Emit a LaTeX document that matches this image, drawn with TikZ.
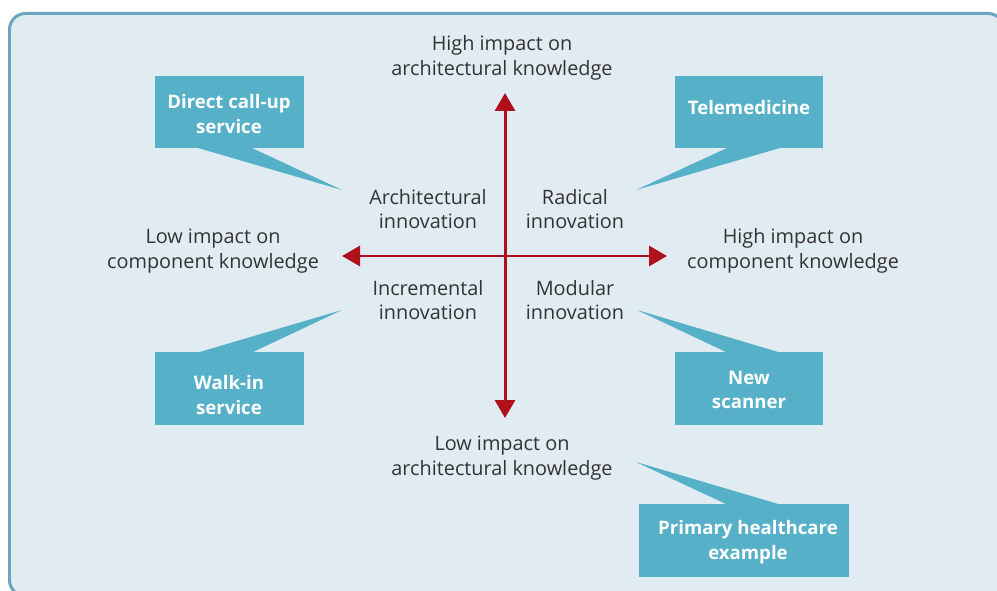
\documentclass[tikz,border=0pt]{standalone}
\usepackage{fontspec}
\setmainfont{Open Sans}
\usetikzlibrary{arrows.meta}
\definecolor{bgblue}{HTML}{E0EBF2}
\definecolor{framecol}{HTML}{6AA6C0}
\definecolor{callcol}{HTML}{56B1C8}
\definecolor{axisred}{HTML}{B0101B}
\definecolor{txtgray}{HTML}{333333}
\begin{document}
\begin{tikzpicture}[x=0.02cm,y=-0.02cm,
  lbl/.style={align=center,text=txtgray,inner sep=0pt,font=\fontsize{11.3}{13.9}\selectfont},
  ctext/.style={align=center,text=white,inner sep=0pt,font=\fontsize{10.6}{13.9}\selectfont\bfseries},
  axis/.style={draw=axisred,line width=0.06cm,{Triangle[width=0.4cm,length=0.36cm]}-{Triangle[width=0.4cm,length=0.36cm]}}
]
\useasboundingbox (0,0) rectangle (997,591);
\begin{scope}
\clip (0,0) rectangle (997,591);
\draw[fill=bgblue,draw=framecol,line width=0.06cm,rounded corners=0.32cm] (9.5,13.5) rectangle (1004,596);
\end{scope}

% axes
\coordinate (top) at (505,93);
\coordinate (bot) at (505,418);
\coordinate (lft) at (342,256);
\coordinate (rgt) at (667,256);
\draw[axis] (bot) -- (top);
\draw[axis] (lft) -- (rgt);

% axis labels
\node[lbl] (hia) at (502,58) {High impact on\\architectural knowledge};
\node[lbl] (lia) at (502,458) {Low impact on\\architectural knowledge};
\node[lbl] (lic) at (213,251) {Low impact on\\component knowledge};
\node[lbl] (hic) at (793,251) {High impact on\\component knowledge};

% quadrant labels
\node[lbl] (arch) at (428,209) {Architectural\\innovation};
\node[lbl] (rad) at (575,209) {Radical\\innovation};
\node[lbl] (inc) at (428,300) {Incremental\\innovation};
\node[lbl] (mod) at (575,300) {Modular\\innovation};

% callout boxes
\fill[callcol] (155,76) rectangle (304,148.5);
\fill[callcol] (675,76) rectangle (823,148.5);
\fill[callcol] (155,352) rectangle (304,424.5);
\fill[callcol] (675,352) rectangle (823,424.5);
\fill[callcol] (639,504) rectangle (849,577);

% tails
\coordinate (t1) at (342,190);
\coordinate (t2) at (636,190);
\coordinate (t3) at (342,310);
\coordinate (t4) at (637,310);
\coordinate (t5) at (636,462);
\fill[callcol] (198,148) -- (t1) -- (252,148) -- cycle;
\fill[callcol] (727,148) -- (t2) -- (780,148) -- cycle;
\fill[callcol] (198,352.5) -- (t3) -- (252,352.5) -- cycle;
\fill[callcol] (727,352.5) -- (t4) -- (780,352.5) -- cycle;
\fill[callcol] (727,504.5) -- (t5) -- (780,504.5) -- cycle;

% callout texts
\node[ctext] (c1) at (229,114) {Direct call-up\\service};
\node[ctext] (c2) at (749,108) {Telemedicine};
\node[ctext] (c3) at (229,395) {Walk-in\\service};
\node[ctext] (c4) at (749,390) {New\\scanner};
\node[ctext] (c5) at (748,542) {Primary healthcare\\example};
\end{tikzpicture}
\end{document}
